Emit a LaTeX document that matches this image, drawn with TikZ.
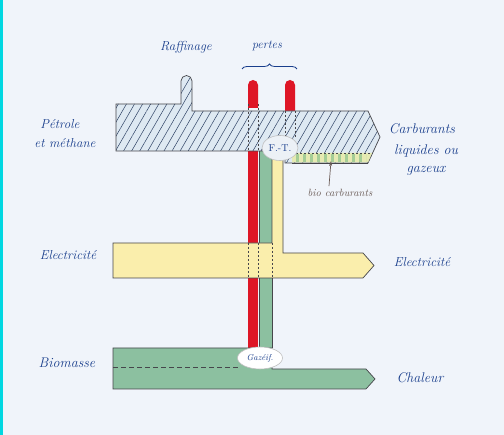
\documentclass[tikz,border=0pt]{standalone}
\usetikzlibrary{patterns.meta,decorations.pathreplacing,arrows.meta,shapes.geometric}
\definecolor{paper}{RGB}{240,244,250}
\definecolor{edge}{RGB}{0,215,225}
\definecolor{ink}{RGB}{25,62,140}
\definecolor{petrolfill}{RGB}{222,233,242}
\definecolor{hatch}{RGB}{45,65,100}
\definecolor{yband}{RGB}{250,238,172}
\definecolor{gband}{RGB}{140,192,160}
\definecolor{rbar}{RGB}{222,22,38}
\definecolor{outl}{RGB}{70,70,75}
\definecolor{biofill}{RGB}{230,234,178}
\definecolor{biodash}{RGB}{165,205,150}
\definecolor{biotext}{RGB}{105,90,85}
\definecolor{ellfill}{RGB}{236,241,246}
\tikzset{
  lbl/.style={text=ink, font=\itshape\fontsize{13}{15}\selectfont, inner sep=0pt},
  biglbl/.style={lbl, font=\itshape\fontsize{14}{16}\selectfont},
  bandline/.style={draw=outl, line width=0.7pt},
  cross/.style={draw=outl, line width=0.5pt, dash pattern=on 2pt off 2pt},
  redbar/.style={fill=rbar},
  proc/.style={ellipse, draw=gray!50, fill=ellfill, line width=0.6pt, inner sep=0pt, text=ink},
}
\begin{document}
\begin{tikzpicture}[x=1pt,y=-1pt]
\useasboundingbox (0,0) rectangle (504,435);
\fill[paper] (0,0) rectangle (504,435);
\fill[edge] (0,0) rectangle (3,435);

% vertical strips (behind bands)
\fill[gband] (259,150) rectangle (272,350);
\fill[redbar] (248,150) rectangle (258,350);
\fill[redbar] (248,108) -- (248,85) arc[start angle=180,end angle=360,radius=5] -- (258,108) -- cycle;
\fill[redbar] (285,112) -- (285,85) arc[start angle=180,end angle=360,radius=5] -- (295,112) -- cycle;
\draw[outl, line width=0.4pt] (259,151) -- (259,243) (259,278) -- (259,348);
\draw[outl, line width=0.5pt] (272,151) -- (272,243) (272,278) -- (272,348);

% petroleum band
\draw[bandline, preaction={fill=petrolfill}, pattern={Lines[angle=60,distance=7pt,line width=0.5pt]}, pattern color=hatch]
  (116,104) -- (181,104) -- (181,81) arc[start angle=180,end angle=360,radius=5.5] -- (192,111)
  -- (368,111) -- (380,137) -- (368,163) -- (285,163) -- (285,151) -- (116,151) -- cycle;
% biofuel strip
\fill[biofill] (292,153) -- (372,153) -- (368,162.5) -- (292,162.5) -- cycle;
\draw[biodash, line width=8pt, dash pattern=on 3pt off 4pt] (296,158) -- (366,158);
\draw[cross] (292,153) -- (372,153);
\draw[bandline] (292,163) -- (368,163);
% crossings in petroleum band
\draw[cross] (248,104) -- (248,151) (258,104) -- (258,151);
\draw[cross] (285,111) -- (285,138) (295,111) -- (295,138);

% electricity band
\draw[bandline, fill=yband]
  (113,243) -- (272,243) -- (272,156) -- (283,156) -- (283,253) -- (363,253) -- (374,265.5)
  -- (363,278) -- (113,278) -- cycle;
\draw[cross] (248,243) -- (248,278) (258,243) -- (258,278) (272,243) -- (272,278);

% biomass band
\draw[bandline, fill=gband]
  (113,348) -- (272,348) -- (272,369) -- (366,369) -- (375,379) -- (366,389) -- (113,389) -- cycle;
\draw[outl, line width=0.6pt, dash pattern=on 5pt off 3pt] (113,367) -- (240,367);

% process nodes
\node[proc, minimum width=36pt, minimum height=25pt, font=\fontsize{10}{12}\selectfont] (ft) at (280,148) {F.-T.};
\node[proc, minimum width=45pt, minimum height=22pt, font=\itshape\fontsize{8.5}{10}\selectfont, fill=white] (gaz) at (260,358) {Gazéif.};

% labels
\node[lbl] (raff) at (186,47) {Raffinage};
\node[lbl, font=\itshape\fontsize{12}{14}\selectfont] (pertes) at (267,46) {pertes};
\coordinate (bl) at (242,69);
\coordinate (br) at (297,69);
\draw[ink, line width=0.8pt, decorate, decoration={brace, amplitude=5pt}] (bl) -- (br);

\node[lbl] (pet1) at (60,124) {Pétrole};
\node[lbl] (pet2) at (65,143) {et méthane};
\node[biglbl] (carb1) at (422,129) {Carburants};
\node[biglbl] (carb2) at (426,151) {liquides ou};
\node[biglbl] (carb3) at (426,171) {gazeux};
\node[lbl, text=biotext, font=\itshape\fontsize{10.5}{12}\selectfont] (bio) at (340,193) {bio carburants};
\coordinate (biotip) at (331,161);
\draw[biotext, line width=0.7pt, -{Stealth[length=5pt,width=3pt]}] (bio.north -| 329,0) ++(0,-3) -- (biotip);

\node[lbl] (el1) at (68,255) {Electricité};
\node[lbl] (el2) at (422,262) {Electricité};
\node[biglbl] (bm) at (67,363) {Biomasse};
\node[biglbl] (ch) at (420,378) {Chaleur};
\end{tikzpicture}
\end{document}
